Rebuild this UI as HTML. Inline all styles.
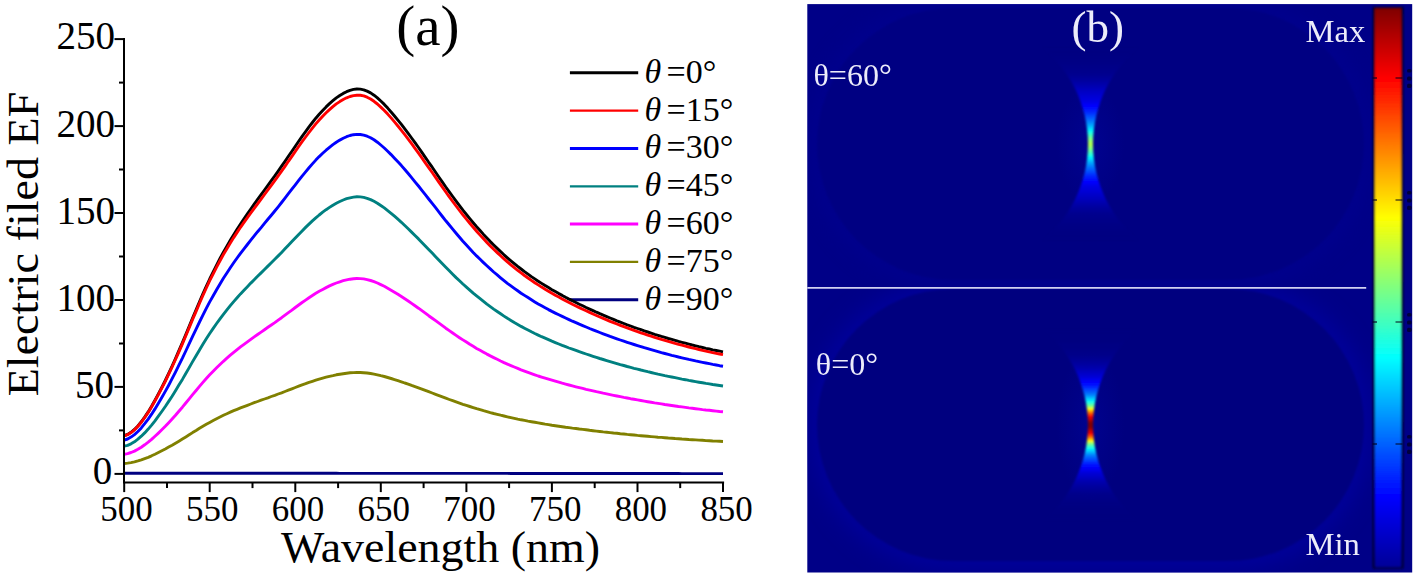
<!DOCTYPE html>
<html><head><meta charset="utf-8"><title>Figure</title>
<style>
html,body{margin:0;padding:0;background:#fff;}
body{width:1416px;height:578px;overflow:hidden;font-family:"Liberation Serif",serif;}
svg{display:block;}
</style></head>
<body>
<svg width="1416" height="578" viewBox="0 0 1416 578">
<rect width="1416" height="578" fill="#ffffff"/>
<path d="M569.9,299.7 H638.2" stroke="#000080" stroke-width="3.0"/>
<path d="M569.9,261.9 H638.2" stroke="#808000" stroke-width="2.2"/>
<path d="M569.9,224.1 H638.2" stroke="#ff00ff" stroke-width="3.0"/>
<path d="M569.9,186.3 H638.2" stroke="#008080" stroke-width="2.2"/>
<path d="M569.9,148.4 H638.2" stroke="#0000ff" stroke-width="3.0"/>
<path d="M569.9,110.6 H638.2" stroke="#ff0000" stroke-width="2.4"/>
<path d="M569.9,72.8 H638.2" stroke="#000000" stroke-width="3.0"/>
<path d="M124.2,473.2 L127.6,473.2 L131.0,473.2 L134.5,473.2 L137.9,473.2 L141.3,473.2 L144.7,473.2 L148.2,473.2 L151.6,473.2 L155.0,473.2 L158.4,473.2 L161.8,473.2 L165.3,473.2 L168.7,473.3 L172.1,473.3 L175.5,473.3 L178.9,473.3 L182.4,473.3 L185.8,473.3 L189.2,473.3 L192.6,473.3 L196.1,473.3 L199.5,473.3 L202.9,473.3 L206.3,473.3 L209.7,473.3 L213.2,473.3 L216.6,473.3 L220.0,473.3 L223.4,473.3 L226.9,473.3 L230.3,473.3 L233.7,473.3 L237.1,473.3 L240.5,473.3 L244.0,473.3 L247.4,473.3 L250.8,473.3 L254.2,473.3 L257.6,473.3 L261.1,473.3 L264.5,473.3 L267.9,473.3 L271.3,473.3 L274.8,473.3 L278.2,473.3 L281.6,473.3 L285.0,473.3 L288.4,473.3 L291.9,473.3 L295.3,473.3 L298.7,473.3 L302.1,473.3 L305.6,473.3 L309.0,473.3 L312.4,473.3 L315.8,473.3 L319.2,473.3 L322.7,473.3 L326.1,473.3 L329.5,473.3 L332.9,473.3 L336.3,473.3 L339.8,473.4 L343.2,473.4 L346.6,473.4 L350.0,473.4 L353.5,473.4 L356.9,473.4 L360.3,473.4 L363.7,473.4 L367.1,473.4 L370.6,473.4 L374.0,473.4 L377.4,473.4 L380.8,473.4 L384.3,473.4 L387.7,473.4 L391.1,473.4 L394.5,473.4 L397.9,473.4 L401.4,473.4 L404.8,473.4 L408.2,473.4 L411.6,473.4 L415.0,473.4 L418.5,473.4 L421.9,473.4 L425.3,473.4 L428.7,473.4 L432.2,473.4 L435.6,473.4 L439.0,473.4 L442.4,473.4 L445.8,473.4 L449.3,473.4 L452.7,473.4 L456.1,473.4 L459.5,473.4 L462.9,473.4 L466.4,473.4 L469.8,473.4 L473.2,473.4 L476.6,473.4 L480.1,473.4 L483.5,473.4 L486.9,473.4 L490.3,473.4 L493.7,473.4 L497.2,473.4 L500.6,473.4 L504.0,473.4 L507.4,473.4 L510.9,473.5 L514.3,473.5 L517.7,473.5 L521.1,473.5 L524.5,473.5 L528.0,473.5 L531.4,473.5 L534.8,473.5 L538.2,473.5 L541.6,473.5 L545.1,473.5 L548.5,473.5 L551.9,473.5 L555.3,473.5 L558.8,473.5 L562.2,473.5 L565.6,473.5 L569.0,473.5 L572.4,473.5 L575.9,473.5 L579.3,473.5 L582.7,473.5 L586.1,473.5 L589.6,473.5 L593.0,473.5 L596.4,473.5 L599.8,473.5 L603.2,473.5 L606.7,473.5 L610.1,473.5 L613.5,473.5 L616.9,473.5 L620.3,473.5 L623.8,473.5 L627.2,473.5 L630.6,473.5 L634.0,473.5 L637.5,473.5 L640.9,473.5 L644.3,473.5 L647.7,473.5 L651.1,473.5 L654.6,473.5 L658.0,473.5 L661.4,473.5 L664.8,473.5 L668.3,473.5 L671.7,473.5 L675.1,473.5 L678.5,473.5 L681.9,473.6 L685.4,473.6 L688.8,473.6 L692.2,473.6 L695.6,473.6 L699.0,473.6 L702.5,473.6 L705.9,473.6 L709.3,473.6 L712.7,473.6 L716.2,473.6 L719.6,473.6 L723.0,473.6" fill="none" stroke="#000080" stroke-width="2.9" stroke-linejoin="round"/>
<path d="M124.2,463.5 L127.6,463.1 L131.0,462.6 L134.5,461.9 L137.9,460.9 L141.3,459.8 L144.7,458.6 L148.2,457.3 L151.6,455.8 L155.0,454.2 L158.4,452.5 L161.8,450.8 L165.3,449.0 L168.7,447.1 L172.1,445.2 L175.5,443.2 L178.9,441.2 L182.4,439.1 L185.8,437.0 L189.2,434.8 L192.6,432.6 L196.1,430.5 L199.5,428.3 L202.9,426.3 L206.3,424.3 L209.7,422.4 L213.2,420.5 L216.6,418.7 L220.0,417.0 L223.4,415.3 L226.9,413.7 L230.3,412.2 L233.7,410.7 L237.1,409.3 L240.5,407.9 L244.0,406.6 L247.4,405.3 L250.8,404.0 L254.2,402.7 L257.6,401.5 L261.1,400.2 L264.5,399.0 L267.9,397.8 L271.3,396.5 L274.8,395.3 L278.2,394.0 L281.6,392.8 L285.0,391.5 L288.4,390.2 L291.9,388.8 L295.3,387.5 L298.7,386.2 L302.1,384.9 L305.6,383.7 L309.0,382.4 L312.4,381.3 L315.8,380.2 L319.2,379.1 L322.7,378.1 L326.1,377.2 L329.5,376.3 L332.9,375.6 L336.3,374.8 L339.8,374.2 L343.2,373.7 L346.6,373.2 L350.0,372.8 L353.5,372.6 L356.9,372.5 L360.3,372.5 L363.7,372.7 L367.1,373.0 L370.6,373.5 L374.0,374.1 L377.4,374.8 L380.8,375.7 L384.3,376.5 L387.7,377.5 L391.1,378.5 L394.5,379.6 L397.9,380.7 L401.4,381.8 L404.8,383.0 L408.2,384.1 L411.6,385.4 L415.0,386.6 L418.5,387.9 L421.9,389.1 L425.3,390.4 L428.7,391.7 L432.2,393.0 L435.6,394.3 L439.0,395.6 L442.4,396.9 L445.8,398.2 L449.3,399.5 L452.7,400.7 L456.1,401.9 L459.5,403.1 L462.9,404.3 L466.4,405.4 L469.8,406.5 L473.2,407.6 L476.6,408.7 L480.1,409.7 L483.5,410.7 L486.9,411.6 L490.3,412.6 L493.7,413.5 L497.2,414.3 L500.6,415.2 L504.0,416.0 L507.4,416.8 L510.9,417.6 L514.3,418.3 L517.7,419.1 L521.1,419.8 L524.5,420.4 L528.0,421.1 L531.4,421.7 L534.8,422.3 L538.2,422.9 L541.6,423.5 L545.1,424.1 L548.5,424.6 L551.9,425.2 L555.3,425.7 L558.8,426.2 L562.2,426.7 L565.6,427.2 L569.0,427.6 L572.4,428.1 L575.9,428.5 L579.3,429.0 L582.7,429.4 L586.1,429.8 L589.6,430.3 L593.0,430.7 L596.4,431.1 L599.8,431.5 L603.2,431.9 L606.7,432.2 L610.1,432.6 L613.5,433.0 L616.9,433.3 L620.3,433.7 L623.8,434.0 L627.2,434.4 L630.6,434.7 L634.0,435.0 L637.5,435.4 L640.9,435.7 L644.3,436.0 L647.7,436.3 L651.1,436.6 L654.6,436.9 L658.0,437.2 L661.4,437.4 L664.8,437.7 L668.3,438.0 L671.7,438.2 L675.1,438.5 L678.5,438.7 L681.9,439.0 L685.4,439.2 L688.8,439.5 L692.2,439.7 L695.6,439.9 L699.0,440.1 L702.5,440.3 L705.9,440.6 L709.3,440.8 L712.7,441.0 L716.2,441.1 L719.6,441.3 L723.0,441.5" fill="none" stroke="#808000" stroke-width="2.9" stroke-linejoin="round"/>
<path d="M124.2,454.3 L127.6,453.6 L131.0,452.5 L134.5,451.1 L137.9,449.3 L141.3,447.2 L144.7,444.8 L148.2,442.2 L151.6,439.4 L155.0,436.3 L158.4,433.1 L161.8,429.8 L165.3,426.3 L168.7,422.7 L172.1,419.0 L175.5,415.2 L178.9,411.2 L182.4,407.2 L185.8,403.0 L189.2,398.8 L192.6,394.6 L196.1,390.5 L199.5,386.4 L202.9,382.4 L206.3,378.5 L209.7,374.8 L213.2,371.2 L216.6,367.8 L220.0,364.5 L223.4,361.3 L226.9,358.2 L230.3,355.2 L233.7,352.4 L237.1,349.6 L240.5,346.9 L244.0,344.3 L247.4,341.8 L250.8,339.3 L254.2,336.9 L257.6,334.5 L261.1,332.1 L264.5,329.7 L267.9,327.3 L271.3,325.0 L274.8,322.6 L278.2,320.1 L281.6,317.7 L285.0,315.1 L288.4,312.6 L291.9,310.1 L295.3,307.5 L298.7,305.0 L302.1,302.5 L305.6,300.1 L309.0,297.7 L312.4,295.5 L315.8,293.3 L319.2,291.3 L322.7,289.4 L326.1,287.6 L329.5,285.9 L332.9,284.4 L336.3,283.0 L339.8,281.8 L343.2,280.7 L346.6,279.9 L350.0,279.2 L353.5,278.7 L356.9,278.5 L360.3,278.6 L363.7,278.9 L367.1,279.6 L370.6,280.5 L374.0,281.6 L377.4,283.0 L380.8,284.6 L384.3,286.3 L387.7,288.2 L391.1,290.2 L394.5,292.2 L397.9,294.3 L401.4,296.5 L404.8,298.7 L408.2,301.0 L411.6,303.4 L415.0,305.8 L418.5,308.2 L421.9,310.7 L425.3,313.1 L428.7,315.7 L432.2,318.2 L435.6,320.7 L439.0,323.2 L442.4,325.7 L445.8,328.2 L449.3,330.6 L452.7,333.0 L456.1,335.4 L459.5,337.7 L462.9,339.9 L466.4,342.1 L469.8,344.3 L473.2,346.3 L476.6,348.4 L480.1,350.3 L483.5,352.2 L486.9,354.1 L490.3,355.9 L493.7,357.6 L497.2,359.3 L500.6,361.0 L504.0,362.6 L507.4,364.1 L510.9,365.6 L514.3,367.0 L517.7,368.4 L521.1,369.8 L524.5,371.1 L528.0,372.4 L531.4,373.6 L534.8,374.8 L538.2,376.0 L541.6,377.1 L545.1,378.2 L548.5,379.2 L551.9,380.2 L555.3,381.2 L558.8,382.2 L562.2,383.2 L565.6,384.1 L569.0,385.0 L572.4,385.9 L575.9,386.8 L579.3,387.6 L582.7,388.4 L586.1,389.3 L589.6,390.1 L593.0,390.9 L596.4,391.7 L599.8,392.4 L603.2,393.2 L606.7,393.9 L610.1,394.6 L613.5,395.3 L616.9,396.0 L620.3,396.7 L623.8,397.4 L627.2,398.0 L630.6,398.7 L634.0,399.3 L637.5,399.9 L640.9,400.5 L644.3,401.1 L647.7,401.7 L651.1,402.3 L654.6,402.9 L658.0,403.4 L661.4,403.9 L664.8,404.5 L668.3,405.0 L671.7,405.5 L675.1,406.0 L678.5,406.5 L681.9,406.9 L685.4,407.4 L688.8,407.9 L692.2,408.3 L695.6,408.7 L699.0,409.1 L702.5,409.6 L705.9,410.0 L709.3,410.3 L712.7,410.7 L716.2,411.1 L719.6,411.5 L723.0,411.8" fill="none" stroke="#ff00ff" stroke-width="2.9" stroke-linejoin="round"/>
<path d="M124.2,446.2 L127.6,445.3 L131.0,443.8 L134.5,441.8 L137.9,439.2 L141.3,436.2 L144.7,432.9 L148.2,429.1 L151.6,425.1 L155.0,420.8 L158.4,416.2 L161.8,411.5 L165.3,406.5 L168.7,401.4 L172.1,396.2 L175.5,390.7 L178.9,385.1 L182.4,379.4 L185.8,373.5 L189.2,367.6 L192.6,361.6 L196.1,355.7 L199.5,349.9 L202.9,344.2 L206.3,338.8 L209.7,333.5 L213.2,328.4 L216.6,323.5 L220.0,318.8 L223.4,314.3 L226.9,309.9 L230.3,305.7 L233.7,301.6 L237.1,297.7 L240.5,293.9 L244.0,290.2 L247.4,286.7 L250.8,283.1 L254.2,279.7 L257.6,276.3 L261.1,272.9 L264.5,269.5 L267.9,266.1 L271.3,262.7 L274.8,259.3 L278.2,255.9 L281.6,252.4 L285.0,248.8 L288.4,245.2 L291.9,241.6 L295.3,238.0 L298.7,234.4 L302.1,230.9 L305.6,227.4 L309.0,224.1 L312.4,220.9 L315.8,217.9 L319.2,215.0 L322.7,212.2 L326.1,209.7 L329.5,207.4 L332.9,205.2 L336.3,203.3 L339.8,201.5 L343.2,200.0 L346.6,198.7 L350.0,197.8 L353.5,197.1 L356.9,196.8 L360.3,196.9 L363.7,197.4 L367.1,198.3 L370.6,199.6 L374.0,201.3 L377.4,203.2 L380.8,205.5 L384.3,207.9 L387.7,210.6 L391.1,213.3 L394.5,216.2 L397.9,219.2 L401.4,222.3 L404.8,225.5 L408.2,228.8 L411.6,232.1 L415.0,235.5 L418.5,238.9 L421.9,242.4 L425.3,246.0 L428.7,249.5 L432.2,253.1 L435.6,256.7 L439.0,260.3 L442.4,263.8 L445.8,267.3 L449.3,270.8 L452.7,274.2 L456.1,277.6 L459.5,280.8 L462.9,284.0 L466.4,287.1 L469.8,290.1 L473.2,293.1 L476.6,295.9 L480.1,298.7 L483.5,301.4 L486.9,304.1 L490.3,306.6 L493.7,309.1 L497.2,311.5 L500.6,313.8 L504.0,316.1 L507.4,318.3 L510.9,320.4 L514.3,322.5 L517.7,324.4 L521.1,326.4 L524.5,328.2 L528.0,330.0 L531.4,331.8 L534.8,333.5 L538.2,335.1 L541.6,336.7 L545.1,338.2 L548.5,339.7 L551.9,341.2 L555.3,342.6 L558.8,344.0 L562.2,345.4 L565.6,346.7 L569.0,348.0 L572.4,349.2 L575.9,350.4 L579.3,351.7 L582.7,352.8 L586.1,354.0 L589.6,355.2 L593.0,356.3 L596.4,357.4 L599.8,358.5 L603.2,359.5 L606.7,360.6 L610.1,361.6 L613.5,362.6 L616.9,363.6 L620.3,364.6 L623.8,365.5 L627.2,366.5 L630.6,367.4 L634.0,368.3 L637.5,369.1 L640.9,370.0 L644.3,370.8 L647.7,371.7 L651.1,372.5 L654.6,373.3 L658.0,374.1 L661.4,374.8 L664.8,375.6 L668.3,376.3 L671.7,377.0 L675.1,377.7 L678.5,378.4 L681.9,379.1 L685.4,379.7 L688.8,380.4 L692.2,381.0 L695.6,381.6 L699.0,382.2 L702.5,382.8 L705.9,383.4 L709.3,383.9 L712.7,384.5 L716.2,385.0 L719.6,385.5 L723.0,386.0" fill="none" stroke="#008080" stroke-width="2.9" stroke-linejoin="round"/>
<path d="M124.2,440.1 L127.6,439.0 L131.0,437.1 L134.5,434.6 L137.9,431.5 L141.3,427.9 L144.7,423.7 L148.2,419.1 L151.6,414.2 L155.0,408.9 L158.4,403.3 L161.8,397.5 L165.3,391.4 L168.7,385.2 L172.1,378.7 L175.5,372.1 L178.9,365.2 L182.4,358.2 L185.8,351.0 L189.2,343.7 L192.6,336.4 L196.1,329.1 L199.5,322.0 L202.9,315.1 L206.3,308.4 L209.7,301.9 L213.2,295.7 L216.6,289.7 L220.0,283.9 L223.4,278.3 L226.9,273.0 L230.3,267.8 L233.7,262.8 L237.1,258.0 L240.5,253.4 L244.0,248.9 L247.4,244.5 L250.8,240.2 L254.2,235.9 L257.6,231.7 L261.1,227.6 L264.5,223.4 L267.9,219.3 L271.3,215.2 L274.8,211.0 L278.2,206.8 L281.6,202.5 L285.0,198.1 L288.4,193.7 L291.9,189.2 L295.3,184.8 L298.7,180.4 L302.1,176.1 L305.6,171.9 L309.0,167.8 L312.4,163.9 L315.8,160.1 L319.2,156.6 L322.7,153.3 L326.1,150.2 L329.5,147.3 L332.9,144.6 L336.3,142.2 L339.8,140.1 L343.2,138.3 L346.6,136.7 L350.0,135.5 L353.5,134.7 L356.9,134.4 L360.3,134.5 L363.7,135.1 L367.1,136.2 L370.6,137.8 L374.0,139.8 L377.4,142.2 L380.8,145.0 L384.3,148.0 L387.7,151.2 L391.1,154.6 L394.5,158.2 L397.9,161.8 L401.4,165.6 L404.8,169.5 L408.2,173.5 L411.6,177.6 L415.0,181.8 L418.5,186.0 L421.9,190.3 L425.3,194.6 L428.7,199.0 L432.2,203.4 L435.6,207.7 L439.0,212.1 L442.4,216.5 L445.8,220.8 L449.3,225.0 L452.7,229.2 L456.1,233.3 L459.5,237.3 L462.9,241.2 L466.4,245.0 L469.8,248.7 L473.2,252.4 L476.6,255.9 L480.1,259.3 L483.5,262.6 L486.9,265.8 L490.3,268.9 L493.7,272.0 L497.2,274.9 L500.6,277.8 L504.0,280.6 L507.4,283.3 L510.9,285.9 L514.3,288.4 L517.7,290.8 L521.1,293.2 L524.5,295.4 L528.0,297.6 L531.4,299.8 L534.8,301.9 L538.2,303.9 L541.6,305.8 L545.1,307.7 L548.5,309.6 L551.9,311.4 L555.3,313.1 L558.8,314.8 L562.2,316.4 L565.6,318.0 L569.0,319.6 L572.4,321.2 L575.9,322.7 L579.3,324.2 L582.7,325.6 L586.1,327.0 L589.6,328.5 L593.0,329.8 L596.4,331.2 L599.8,332.5 L603.2,333.8 L606.7,335.1 L610.1,336.4 L613.5,337.6 L616.9,338.8 L620.3,340.0 L623.8,341.2 L627.2,342.3 L630.6,343.4 L634.0,344.5 L637.5,345.6 L640.9,346.6 L644.3,347.7 L647.7,348.7 L651.1,349.7 L654.6,350.7 L658.0,351.6 L661.4,352.6 L664.8,353.5 L668.3,354.4 L671.7,355.3 L675.1,356.1 L678.5,357.0 L681.9,357.8 L685.4,358.6 L688.8,359.4 L692.2,360.1 L695.6,360.9 L699.0,361.6 L702.5,362.3 L705.9,363.0 L709.3,363.7 L712.7,364.4 L716.2,365.0 L719.6,365.7 L723.0,366.3" fill="none" stroke="#0000ff" stroke-width="2.9" stroke-linejoin="round"/>
<path d="M124.2,435.6 L127.6,434.4 L131.0,432.3 L134.5,429.4 L137.9,425.9 L141.3,421.8 L144.7,417.1 L148.2,411.9 L151.6,406.2 L155.0,400.2 L158.4,393.9 L161.8,387.3 L165.3,380.5 L168.7,373.4 L172.1,366.1 L175.5,358.5 L178.9,350.7 L182.4,342.7 L185.8,334.6 L189.2,326.3 L192.6,318.0 L196.1,309.8 L199.5,301.7 L202.9,293.9 L206.3,286.3 L209.7,279.0 L213.2,271.9 L216.6,265.1 L220.0,258.5 L223.4,252.2 L226.9,246.1 L230.3,240.3 L233.7,234.7 L237.1,229.2 L240.5,224.0 L244.0,218.8 L247.4,213.9 L250.8,209.0 L254.2,204.2 L257.6,199.4 L261.1,194.7 L264.5,190.0 L267.9,185.3 L271.3,180.6 L274.8,175.9 L278.2,171.1 L281.6,166.2 L285.0,161.3 L288.4,156.3 L291.9,151.2 L295.3,146.2 L298.7,141.2 L302.1,136.3 L305.6,131.6 L309.0,126.9 L312.4,122.5 L315.8,118.2 L319.2,114.2 L322.7,110.4 L326.1,106.9 L329.5,103.6 L332.9,100.7 L336.3,97.9 L339.8,95.5 L343.2,93.4 L346.6,91.7 L350.0,90.3 L353.5,89.4 L356.9,89.0 L360.3,89.1 L363.7,89.8 L367.1,91.1 L370.6,92.9 L374.0,95.2 L377.4,97.9 L380.8,101.0 L384.3,104.4 L387.7,108.1 L391.1,112.0 L394.5,116.0 L397.9,120.1 L401.4,124.4 L404.8,128.9 L408.2,133.4 L411.6,138.0 L415.0,142.7 L418.5,147.5 L421.9,152.4 L425.3,157.3 L428.7,162.3 L432.2,167.2 L435.6,172.2 L439.0,177.2 L442.4,182.1 L445.8,187.0 L449.3,191.8 L452.7,196.5 L456.1,201.2 L459.5,205.7 L462.9,210.2 L466.4,214.5 L469.8,218.7 L473.2,222.8 L476.6,226.8 L480.1,230.6 L483.5,234.4 L486.9,238.0 L490.3,241.6 L493.7,245.0 L497.2,248.4 L500.6,251.6 L504.0,254.8 L507.4,257.8 L510.9,260.8 L514.3,263.6 L517.7,266.4 L521.1,269.0 L524.5,271.6 L528.0,274.1 L531.4,276.6 L534.8,278.9 L538.2,281.2 L541.6,283.4 L545.1,285.6 L548.5,287.6 L551.9,289.7 L555.3,291.6 L558.8,293.6 L562.2,295.4 L565.6,297.3 L569.0,299.1 L572.4,300.8 L575.9,302.5 L579.3,304.2 L582.7,305.8 L586.1,307.5 L589.6,309.1 L593.0,310.6 L596.4,312.2 L599.8,313.7 L603.2,315.1 L606.7,316.6 L610.1,318.0 L613.5,319.4 L616.9,320.8 L620.3,322.1 L623.8,323.5 L627.2,324.8 L630.6,326.0 L634.0,327.3 L637.5,328.5 L640.9,329.7 L644.3,330.9 L647.7,332.0 L651.1,333.1 L654.6,334.3 L658.0,335.3 L661.4,336.4 L664.8,337.4 L668.3,338.5 L671.7,339.4 L675.1,340.4 L678.5,341.4 L681.9,342.3 L685.4,343.2 L688.8,344.1 L692.2,345.0 L695.6,345.8 L699.0,346.7 L702.5,347.5 L705.9,348.3 L709.3,349.0 L712.7,349.8 L716.2,350.5 L719.6,351.2 L723.0,351.9" fill="none" stroke="#000000" stroke-width="2.9" stroke-linejoin="round"/>
<path d="M124.2,435.9 L127.6,434.7 L131.0,432.6 L134.5,429.8 L137.9,426.3 L141.3,422.2 L144.7,417.5 L148.2,412.4 L151.6,406.8 L155.0,400.8 L158.4,394.6 L161.8,388.0 L165.3,381.3 L168.7,374.2 L172.1,367.0 L175.5,359.5 L178.9,351.8 L182.4,343.9 L185.8,335.8 L189.2,327.6 L192.6,319.4 L196.1,311.3 L199.5,303.3 L202.9,295.5 L206.3,288.0 L209.7,280.7 L213.2,273.8 L216.6,267.2 L220.0,260.8 L223.4,254.6 L226.9,248.8 L230.3,243.1 L233.7,237.6 L237.1,232.4 L240.5,227.3 L244.0,222.4 L247.4,217.6 L250.8,212.9 L254.2,208.3 L257.6,203.8 L261.1,199.2 L264.5,194.5 L267.9,189.9 L271.3,185.3 L274.8,180.6 L278.2,175.9 L281.6,171.1 L285.0,166.3 L288.4,161.3 L291.9,156.4 L295.3,151.4 L298.7,146.5 L302.1,141.7 L305.6,137.0 L309.0,132.5 L312.4,128.1 L315.8,123.9 L319.2,120.0 L322.7,116.2 L326.1,112.8 L329.5,109.6 L332.9,106.6 L336.3,103.9 L339.8,101.6 L343.2,99.5 L346.6,97.8 L350.0,96.5 L353.5,95.6 L356.9,95.2 L360.3,95.3 L363.7,95.9 L367.1,97.2 L370.6,99.0 L374.0,101.3 L377.4,104.0 L380.8,107.1 L384.3,110.5 L387.7,114.1 L391.1,117.9 L394.5,121.9 L397.9,126.0 L401.4,130.3 L404.8,134.6 L408.2,139.1 L411.6,143.7 L415.0,148.4 L418.5,153.1 L421.9,157.9 L425.3,162.8 L428.7,167.6 L432.2,172.5 L435.6,177.4 L439.0,182.3 L442.4,187.2 L445.8,192.0 L449.3,196.8 L452.7,201.5 L456.1,206.0 L459.5,210.5 L462.9,214.9 L466.4,219.2 L469.8,223.3 L473.2,227.3 L476.6,231.2 L480.1,235.1 L483.5,238.8 L486.9,242.4 L490.3,245.9 L493.7,249.3 L497.2,252.6 L500.6,255.8 L504.0,258.9 L507.4,261.9 L510.9,264.8 L514.3,267.6 L517.7,270.3 L521.1,272.9 L524.5,275.5 L528.0,278.0 L531.4,280.4 L534.8,282.7 L538.2,284.9 L541.6,287.1 L545.1,289.2 L548.5,291.3 L551.9,293.3 L555.3,295.2 L558.8,297.1 L562.2,299.0 L565.6,300.8 L569.0,302.5 L572.4,304.3 L575.9,306.0 L579.3,307.6 L582.7,309.2 L586.1,310.8 L589.6,312.4 L593.0,314.0 L596.4,315.5 L599.8,317.0 L603.2,318.4 L606.7,319.8 L610.1,321.3 L613.5,322.6 L616.9,324.0 L620.3,325.3 L623.8,326.6 L627.2,327.9 L630.6,329.2 L634.0,330.4 L637.5,331.6 L640.9,332.8 L644.3,333.9 L647.7,335.1 L651.1,336.2 L654.6,337.3 L658.0,338.3 L661.4,339.4 L664.8,340.4 L668.3,341.4 L671.7,342.4 L675.1,343.4 L678.5,344.3 L681.9,345.2 L685.4,346.1 L688.8,347.0 L692.2,347.9 L695.6,348.7 L699.0,349.5 L702.5,350.3 L705.9,351.1 L709.3,351.9 L712.7,352.6 L716.2,353.3 L719.6,354.0 L723.0,354.7" fill="none" stroke="#ff0000" stroke-width="2.9" stroke-linejoin="round"/>
<g stroke="#000" stroke-width="2" fill="none">
<path d="M124.0,38.1 V482.6 H724.1"/>
<path d="M124.0,473.9 h-9.5"/>
<path d="M124.0,430.4 h-5.0"/>
<path d="M124.0,386.9 h-9.5"/>
<path d="M124.0,343.5 h-5.0"/>
<path d="M124.0,300.0 h-9.5"/>
<path d="M124.0,256.5 h-5.0"/>
<path d="M124.0,213.0 h-9.5"/>
<path d="M124.0,169.5 h-5.0"/>
<path d="M124.0,126.1 h-9.5"/>
<path d="M124.0,82.6 h-5.0"/>
<path d="M124.0,39.1 h-9.5"/>
<path d="M124.2,482.6 v9.5"/>
<path d="M167.0,482.6 v5.5"/>
<path d="M209.7,482.6 v9.5"/>
<path d="M252.5,482.6 v5.5"/>
<path d="M295.3,482.6 v9.5"/>
<path d="M338.1,482.6 v5.5"/>
<path d="M380.8,482.6 v9.5"/>
<path d="M423.6,482.6 v5.5"/>
<path d="M466.4,482.6 v9.5"/>
<path d="M509.1,482.6 v5.5"/>
<path d="M551.9,482.6 v9.5"/>
<path d="M594.7,482.6 v5.5"/>
<path d="M637.5,482.6 v9.5"/>
<path d="M680.2,482.6 v5.5"/>
<path d="M723.0,482.6 v9.5"/>
</g>
<g font-family="Liberation Serif, serif" fill="#000">
<text transform="translate(112.40,483.50) scale(0.9650,1)" font-size="40.5" text-anchor="end">0</text>
<text transform="translate(114.00,397.54) scale(0.9650,1)" font-size="40.5" text-anchor="end">50</text>
<text transform="translate(115.00,310.58) scale(0.9650,1)" font-size="40.5" text-anchor="end">100</text>
<text transform="translate(115.00,223.62) scale(0.9650,1)" font-size="40.5" text-anchor="end">150</text>
<text transform="translate(115.00,136.66) scale(0.9650,1)" font-size="40.5" text-anchor="end">200</text>
<text transform="translate(115.00,48.90) scale(0.9650,1)" font-size="40.5" text-anchor="end">250</text>
<text transform="translate(126.50,521.20) scale(0.9850,1)" font-size="35.5" text-anchor="middle">500</text>
<text transform="translate(212.23,521.20) scale(0.9850,1)" font-size="35.5" text-anchor="middle">550</text>
<text transform="translate(297.96,521.20) scale(0.9850,1)" font-size="35.5" text-anchor="middle">600</text>
<text transform="translate(383.69,521.20) scale(0.9850,1)" font-size="35.5" text-anchor="middle">650</text>
<text transform="translate(469.41,521.20) scale(0.9850,1)" font-size="35.5" text-anchor="middle">700</text>
<text transform="translate(555.14,521.20) scale(0.9850,1)" font-size="35.5" text-anchor="middle">750</text>
<text transform="translate(640.87,521.20) scale(0.9850,1)" font-size="35.5" text-anchor="middle">800</text>
<text transform="translate(726.60,521.20) scale(0.9850,1)" font-size="35.5" text-anchor="middle">850</text>
<text transform="translate(440.50,562.00) scale(1.0250,1)" font-size="44.8" text-anchor="middle">Wavelength (nm)</text>
<text transform="translate(37.60,244.00) rotate(-90) scale(1.0600,1)" font-size="43.5" text-anchor="middle">Electric filed EF</text>
<text transform="translate(427.80,44.60)" font-size="57" text-anchor="middle">(a)</text>
</g>
<g font-family="Liberation Serif, serif" font-size="34" fill="#000">
<text x="644.5" y="82.7" font-style="italic">&#952;</text>
<text x="666.5" y="82.7">=0&#176;</text>
<text x="644.5" y="120.5" font-style="italic">&#952;</text>
<text x="666.5" y="120.5">=15&#176;</text>
<text x="644.5" y="158.3" font-style="italic">&#952;</text>
<text x="666.5" y="158.3">=30&#176;</text>
<text x="644.5" y="196.2" font-style="italic">&#952;</text>
<text x="666.5" y="196.2">=45&#176;</text>
<text x="644.5" y="234.0" font-style="italic">&#952;</text>
<text x="666.5" y="234.0">=60&#176;</text>
<text x="644.5" y="271.8" font-style="italic">&#952;</text>
<text x="666.5" y="271.8">=75&#176;</text>
<text x="644.5" y="309.6" font-style="italic">&#952;</text>
<text x="666.5" y="309.6">=90&#176;</text>
</g>
<defs>
<linearGradient id="cb" x1="0" y1="0" x2="0" y2="1">
<stop offset="0.0000" stop-color="#800000"/>
<stop offset="0.1250" stop-color="#ff0000"/>
<stop offset="0.3750" stop-color="#ffff00"/>
<stop offset="0.6250" stop-color="#00ffff"/>
<stop offset="0.8750" stop-color="#0000ff"/>
<stop offset="1.0000" stop-color="#000098"/>
</linearGradient>
<linearGradient id="fu" gradientUnits="userSpaceOnUse" x1="0" y1="44.0" x2="0" y2="244.0">
<stop offset="0.000" stop-color="#000080" stop-opacity="0.00"/>
<stop offset="0.010" stop-color="#000080" stop-opacity="0.00"/>
<stop offset="0.020" stop-color="#000081" stop-opacity="0.01"/>
<stop offset="0.030" stop-color="#000083" stop-opacity="0.04"/>
<stop offset="0.040" stop-color="#000084" stop-opacity="0.07"/>
<stop offset="0.050" stop-color="#000086" stop-opacity="0.10"/>
<stop offset="0.060" stop-color="#000088" stop-opacity="0.12"/>
<stop offset="0.070" stop-color="#000089" stop-opacity="0.15"/>
<stop offset="0.080" stop-color="#00008b" stop-opacity="0.19"/>
<stop offset="0.090" stop-color="#00008e" stop-opacity="0.23"/>
<stop offset="0.100" stop-color="#000090" stop-opacity="0.27"/>
<stop offset="0.110" stop-color="#000093" stop-opacity="0.31"/>
<stop offset="0.120" stop-color="#000095" stop-opacity="0.35"/>
<stop offset="0.130" stop-color="#000098" stop-opacity="0.39"/>
<stop offset="0.140" stop-color="#00009a" stop-opacity="0.43"/>
<stop offset="0.150" stop-color="#00009c" stop-opacity="0.47"/>
<stop offset="0.160" stop-color="#0000a1" stop-opacity="0.54"/>
<stop offset="0.170" stop-color="#0000a5" stop-opacity="0.61"/>
<stop offset="0.180" stop-color="#0000a9" stop-opacity="0.68"/>
<stop offset="0.190" stop-color="#0000ae" stop-opacity="0.75"/>
<stop offset="0.200" stop-color="#0000b2" stop-opacity="0.82"/>
<stop offset="0.210" stop-color="#0000b6" stop-opacity="0.89"/>
<stop offset="0.220" stop-color="#0000bb" stop-opacity="0.96"/>
<stop offset="0.230" stop-color="#0000bf" stop-opacity="1.00"/>
<stop offset="0.240" stop-color="#0000c5" stop-opacity="1.00"/>
<stop offset="0.250" stop-color="#0000cc" stop-opacity="1.00"/>
<stop offset="0.260" stop-color="#0000d2" stop-opacity="1.00"/>
<stop offset="0.270" stop-color="#0000d9" stop-opacity="1.00"/>
<stop offset="0.280" stop-color="#0000df" stop-opacity="1.00"/>
<stop offset="0.290" stop-color="#0000e6" stop-opacity="1.00"/>
<stop offset="0.300" stop-color="#0000f3" stop-opacity="1.00"/>
<stop offset="0.310" stop-color="#0000ff" stop-opacity="1.00"/>
<stop offset="0.320" stop-color="#000dff" stop-opacity="1.00"/>
<stop offset="0.330" stop-color="#001aff" stop-opacity="1.00"/>
<stop offset="0.340" stop-color="#0027ff" stop-opacity="1.00"/>
<stop offset="0.350" stop-color="#0037ff" stop-opacity="1.00"/>
<stop offset="0.360" stop-color="#0049ff" stop-opacity="1.00"/>
<stop offset="0.370" stop-color="#005bff" stop-opacity="1.00"/>
<stop offset="0.380" stop-color="#006dff" stop-opacity="1.00"/>
<stop offset="0.390" stop-color="#0080ff" stop-opacity="1.00"/>
<stop offset="0.400" stop-color="#0098ff" stop-opacity="1.00"/>
<stop offset="0.410" stop-color="#00b0ff" stop-opacity="1.00"/>
<stop offset="0.420" stop-color="#00cdff" stop-opacity="1.00"/>
<stop offset="0.430" stop-color="#00eeff" stop-opacity="1.00"/>
<stop offset="0.440" stop-color="#0ffff0" stop-opacity="1.00"/>
<stop offset="0.450" stop-color="#2effd1" stop-opacity="1.00"/>
<stop offset="0.460" stop-color="#4dffb2" stop-opacity="1.00"/>
<stop offset="0.470" stop-color="#6eff91" stop-opacity="1.00"/>
<stop offset="0.480" stop-color="#8aff75" stop-opacity="1.00"/>
<stop offset="0.490" stop-color="#9eff61" stop-opacity="1.00"/>
<stop offset="0.500" stop-color="#b3ff4c" stop-opacity="1.00"/>
<stop offset="0.510" stop-color="#9eff61" stop-opacity="1.00"/>
<stop offset="0.520" stop-color="#8aff75" stop-opacity="1.00"/>
<stop offset="0.530" stop-color="#6eff91" stop-opacity="1.00"/>
<stop offset="0.540" stop-color="#4cffb3" stop-opacity="1.00"/>
<stop offset="0.550" stop-color="#2effd1" stop-opacity="1.00"/>
<stop offset="0.560" stop-color="#0ffff0" stop-opacity="1.00"/>
<stop offset="0.570" stop-color="#00eeff" stop-opacity="1.00"/>
<stop offset="0.580" stop-color="#00cdff" stop-opacity="1.00"/>
<stop offset="0.590" stop-color="#00b0ff" stop-opacity="1.00"/>
<stop offset="0.600" stop-color="#0098ff" stop-opacity="1.00"/>
<stop offset="0.610" stop-color="#0080ff" stop-opacity="1.00"/>
<stop offset="0.620" stop-color="#006dff" stop-opacity="1.00"/>
<stop offset="0.630" stop-color="#005bff" stop-opacity="1.00"/>
<stop offset="0.640" stop-color="#0049ff" stop-opacity="1.00"/>
<stop offset="0.650" stop-color="#0037ff" stop-opacity="1.00"/>
<stop offset="0.660" stop-color="#0027ff" stop-opacity="1.00"/>
<stop offset="0.670" stop-color="#001aff" stop-opacity="1.00"/>
<stop offset="0.680" stop-color="#000dff" stop-opacity="1.00"/>
<stop offset="0.690" stop-color="#0000ff" stop-opacity="1.00"/>
<stop offset="0.700" stop-color="#0000f3" stop-opacity="1.00"/>
<stop offset="0.710" stop-color="#0000e6" stop-opacity="1.00"/>
<stop offset="0.720" stop-color="#0000df" stop-opacity="1.00"/>
<stop offset="0.730" stop-color="#0000d9" stop-opacity="1.00"/>
<stop offset="0.740" stop-color="#0000d2" stop-opacity="1.00"/>
<stop offset="0.750" stop-color="#0000cc" stop-opacity="1.00"/>
<stop offset="0.760" stop-color="#0000c5" stop-opacity="1.00"/>
<stop offset="0.770" stop-color="#0000bf" stop-opacity="1.00"/>
<stop offset="0.780" stop-color="#0000bb" stop-opacity="0.96"/>
<stop offset="0.790" stop-color="#0000b6" stop-opacity="0.89"/>
<stop offset="0.800" stop-color="#0000b2" stop-opacity="0.82"/>
<stop offset="0.810" stop-color="#0000ae" stop-opacity="0.75"/>
<stop offset="0.820" stop-color="#0000a9" stop-opacity="0.68"/>
<stop offset="0.830" stop-color="#0000a5" stop-opacity="0.61"/>
<stop offset="0.840" stop-color="#0000a1" stop-opacity="0.54"/>
<stop offset="0.850" stop-color="#00009c" stop-opacity="0.47"/>
<stop offset="0.860" stop-color="#00009a" stop-opacity="0.43"/>
<stop offset="0.870" stop-color="#000098" stop-opacity="0.39"/>
<stop offset="0.880" stop-color="#000095" stop-opacity="0.35"/>
<stop offset="0.890" stop-color="#000093" stop-opacity="0.31"/>
<stop offset="0.900" stop-color="#000090" stop-opacity="0.27"/>
<stop offset="0.910" stop-color="#00008e" stop-opacity="0.23"/>
<stop offset="0.920" stop-color="#00008b" stop-opacity="0.19"/>
<stop offset="0.930" stop-color="#000089" stop-opacity="0.15"/>
<stop offset="0.940" stop-color="#000088" stop-opacity="0.13"/>
<stop offset="0.950" stop-color="#000086" stop-opacity="0.10"/>
<stop offset="0.960" stop-color="#000084" stop-opacity="0.07"/>
<stop offset="0.970" stop-color="#000083" stop-opacity="0.04"/>
<stop offset="0.980" stop-color="#000081" stop-opacity="0.01"/>
<stop offset="0.990" stop-color="#000080" stop-opacity="0.00"/>
<stop offset="1.000" stop-color="#000080" stop-opacity="0.00"/>
</linearGradient>
<linearGradient id="fl" gradientUnits="userSpaceOnUse" x1="0" y1="325.0" x2="0" y2="525.0">
<stop offset="0.000" stop-color="#000080" stop-opacity="0.00"/>
<stop offset="0.010" stop-color="#000080" stop-opacity="0.00"/>
<stop offset="0.020" stop-color="#000081" stop-opacity="0.01"/>
<stop offset="0.030" stop-color="#000082" stop-opacity="0.04"/>
<stop offset="0.040" stop-color="#000084" stop-opacity="0.06"/>
<stop offset="0.050" stop-color="#000085" stop-opacity="0.08"/>
<stop offset="0.060" stop-color="#000087" stop-opacity="0.11"/>
<stop offset="0.070" stop-color="#000088" stop-opacity="0.13"/>
<stop offset="0.080" stop-color="#000089" stop-opacity="0.15"/>
<stop offset="0.090" stop-color="#00008b" stop-opacity="0.19"/>
<stop offset="0.100" stop-color="#00008e" stop-opacity="0.22"/>
<stop offset="0.110" stop-color="#000090" stop-opacity="0.26"/>
<stop offset="0.120" stop-color="#000092" stop-opacity="0.30"/>
<stop offset="0.130" stop-color="#000095" stop-opacity="0.34"/>
<stop offset="0.140" stop-color="#000097" stop-opacity="0.38"/>
<stop offset="0.150" stop-color="#000099" stop-opacity="0.42"/>
<stop offset="0.160" stop-color="#00009d" stop-opacity="0.48"/>
<stop offset="0.170" stop-color="#0000a2" stop-opacity="0.55"/>
<stop offset="0.180" stop-color="#0000a6" stop-opacity="0.62"/>
<stop offset="0.190" stop-color="#0000aa" stop-opacity="0.68"/>
<stop offset="0.200" stop-color="#0000ae" stop-opacity="0.75"/>
<stop offset="0.210" stop-color="#0000b2" stop-opacity="0.82"/>
<stop offset="0.220" stop-color="#0000b6" stop-opacity="0.88"/>
<stop offset="0.230" stop-color="#0000bc" stop-opacity="0.99"/>
<stop offset="0.240" stop-color="#0000c5" stop-opacity="1.00"/>
<stop offset="0.250" stop-color="#0000ce" stop-opacity="1.00"/>
<stop offset="0.260" stop-color="#0000d6" stop-opacity="1.00"/>
<stop offset="0.270" stop-color="#0000e6" stop-opacity="1.00"/>
<stop offset="0.280" stop-color="#0000f5" stop-opacity="1.00"/>
<stop offset="0.290" stop-color="#0005ff" stop-opacity="1.00"/>
<stop offset="0.300" stop-color="#0014ff" stop-opacity="1.00"/>
<stop offset="0.310" stop-color="#0024ff" stop-opacity="1.00"/>
<stop offset="0.320" stop-color="#003bff" stop-opacity="1.00"/>
<stop offset="0.330" stop-color="#0052ff" stop-opacity="1.00"/>
<stop offset="0.340" stop-color="#0069ff" stop-opacity="1.00"/>
<stop offset="0.350" stop-color="#007fff" stop-opacity="1.00"/>
<stop offset="0.360" stop-color="#00a7ff" stop-opacity="1.00"/>
<stop offset="0.370" stop-color="#00ceff" stop-opacity="1.00"/>
<stop offset="0.380" stop-color="#00f5ff" stop-opacity="1.00"/>
<stop offset="0.390" stop-color="#26ffd9" stop-opacity="1.00"/>
<stop offset="0.400" stop-color="#59ffa6" stop-opacity="1.00"/>
<stop offset="0.410" stop-color="#99ff66" stop-opacity="1.00"/>
<stop offset="0.420" stop-color="#ffff00" stop-opacity="1.00"/>
<stop offset="0.430" stop-color="#ffaa00" stop-opacity="1.00"/>
<stop offset="0.440" stop-color="#ff6000" stop-opacity="1.00"/>
<stop offset="0.450" stop-color="#ff2000" stop-opacity="1.00"/>
<stop offset="0.460" stop-color="#ed0000" stop-opacity="1.00"/>
<stop offset="0.470" stop-color="#c70000" stop-opacity="1.00"/>
<stop offset="0.480" stop-color="#9e0000" stop-opacity="1.00"/>
<stop offset="0.490" stop-color="#800000" stop-opacity="1.00"/>
<stop offset="0.500" stop-color="#800000" stop-opacity="1.00"/>
<stop offset="0.510" stop-color="#800000" stop-opacity="1.00"/>
<stop offset="0.520" stop-color="#9e0000" stop-opacity="1.00"/>
<stop offset="0.530" stop-color="#c70000" stop-opacity="1.00"/>
<stop offset="0.540" stop-color="#ed0000" stop-opacity="1.00"/>
<stop offset="0.550" stop-color="#ff2000" stop-opacity="1.00"/>
<stop offset="0.560" stop-color="#ff6000" stop-opacity="1.00"/>
<stop offset="0.570" stop-color="#ffaa00" stop-opacity="1.00"/>
<stop offset="0.580" stop-color="#ffff00" stop-opacity="1.00"/>
<stop offset="0.590" stop-color="#99ff66" stop-opacity="1.00"/>
<stop offset="0.600" stop-color="#59ffa6" stop-opacity="1.00"/>
<stop offset="0.610" stop-color="#26ffd9" stop-opacity="1.00"/>
<stop offset="0.620" stop-color="#00f5ff" stop-opacity="1.00"/>
<stop offset="0.630" stop-color="#00ceff" stop-opacity="1.00"/>
<stop offset="0.640" stop-color="#00a7ff" stop-opacity="1.00"/>
<stop offset="0.650" stop-color="#007fff" stop-opacity="1.00"/>
<stop offset="0.660" stop-color="#0069ff" stop-opacity="1.00"/>
<stop offset="0.670" stop-color="#0052ff" stop-opacity="1.00"/>
<stop offset="0.680" stop-color="#003bff" stop-opacity="1.00"/>
<stop offset="0.690" stop-color="#0024ff" stop-opacity="1.00"/>
<stop offset="0.700" stop-color="#0014ff" stop-opacity="1.00"/>
<stop offset="0.710" stop-color="#0005ff" stop-opacity="1.00"/>
<stop offset="0.720" stop-color="#0000f5" stop-opacity="1.00"/>
<stop offset="0.730" stop-color="#0000e6" stop-opacity="1.00"/>
<stop offset="0.740" stop-color="#0000d6" stop-opacity="1.00"/>
<stop offset="0.750" stop-color="#0000ce" stop-opacity="1.00"/>
<stop offset="0.760" stop-color="#0000c5" stop-opacity="1.00"/>
<stop offset="0.770" stop-color="#0000bc" stop-opacity="0.99"/>
<stop offset="0.780" stop-color="#0000b6" stop-opacity="0.88"/>
<stop offset="0.790" stop-color="#0000b2" stop-opacity="0.82"/>
<stop offset="0.800" stop-color="#0000ae" stop-opacity="0.75"/>
<stop offset="0.810" stop-color="#0000aa" stop-opacity="0.68"/>
<stop offset="0.820" stop-color="#0000a6" stop-opacity="0.62"/>
<stop offset="0.830" stop-color="#0000a2" stop-opacity="0.55"/>
<stop offset="0.840" stop-color="#00009d" stop-opacity="0.48"/>
<stop offset="0.850" stop-color="#000099" stop-opacity="0.42"/>
<stop offset="0.860" stop-color="#000097" stop-opacity="0.38"/>
<stop offset="0.870" stop-color="#000095" stop-opacity="0.34"/>
<stop offset="0.880" stop-color="#000092" stop-opacity="0.30"/>
<stop offset="0.890" stop-color="#000090" stop-opacity="0.26"/>
<stop offset="0.900" stop-color="#00008e" stop-opacity="0.22"/>
<stop offset="0.910" stop-color="#00008b" stop-opacity="0.19"/>
<stop offset="0.920" stop-color="#000089" stop-opacity="0.15"/>
<stop offset="0.930" stop-color="#000088" stop-opacity="0.13"/>
<stop offset="0.940" stop-color="#000087" stop-opacity="0.11"/>
<stop offset="0.950" stop-color="#000085" stop-opacity="0.08"/>
<stop offset="0.960" stop-color="#000084" stop-opacity="0.06"/>
<stop offset="0.970" stop-color="#000082" stop-opacity="0.04"/>
<stop offset="0.980" stop-color="#000081" stop-opacity="0.01"/>
<stop offset="0.990" stop-color="#000080" stop-opacity="0.00"/>
<stop offset="1.000" stop-color="#000080" stop-opacity="0.00"/>
</linearGradient>
<filter id="bl" x="-20%" y="-20%" width="140%" height="140%"><feGaussianBlur stdDeviation="1.0"/></filter>
<filter id="bl2" x="-20%" y="-20%" width="140%" height="140%"><feGaussianBlur stdDeviation="0.8"/></filter>
<filter id="bl3" x="-10%" y="-10%" width="120%" height="120%"><feGaussianBlur stdDeviation="10"/></filter>
<filter id="bl4" x="-10%" y="-10%" width="120%" height="120%"><feGaussianBlur stdDeviation="0.45"/></filter>
<radialGradient id="halo" cx="0.5" cy="0.5" r="0.5"><stop offset="0" stop-color="#0008b0" stop-opacity="0.9"/><stop offset="1" stop-color="#0008b0" stop-opacity="0"/></radialGradient>
<clipPath id="cu"><rect x="807.3" y="4.1" width="604.9" height="283.8"/></clipPath>
<clipPath id="cl"><rect x="807.3" y="287.9" width="604.9" height="284.6"/></clipPath>
<clipPath id="panel"><rect x="807.3" y="4.1" width="604.9" height="568.4"/></clipPath>
</defs>
<rect x="807.3" y="4.1" width="604.9" height="568.4" fill="#000087"/>
<g clip-path="url(#panel)">
<g clip-path="url(#cu)">
<rect x="807.0" y="-2.0" width="567.0" height="292.0" rx="146.0" ry="146.0" fill="#000094" opacity="0.50" filter="url(#bl3)"/>
<rect x="817.0" y="8.0" width="547.0" height="272.0" rx="136.0" ry="136.0" fill="#000082" filter="url(#bl2)"/>
</g>
<g clip-path="url(#cl)">
<rect x="807.0" y="279.0" width="567.0" height="292.0" rx="146.0" ry="146.0" fill="#00009a" opacity="1.00" filter="url(#bl3)"/>
<rect x="817.0" y="289.0" width="547.0" height="272.0" rx="136.0" ry="136.0" fill="#00007f" filter="url(#bl2)"/>
</g>
<ellipse cx="1090.5" cy="144.0" rx="34" ry="60" fill="url(#halo)" opacity="0.35"/>
<ellipse cx="1090.5" cy="425.0" rx="34" ry="75" fill="url(#halo)" opacity="0.35"/>
<g filter="url(#bl)">
<path d="M1038.00,44.00 A125.0,125.0 0 0 1 1038.00,244.00 L1143.00,244.00 A125.0,125.0 0 0 1 1143.00,44.00 Z" fill="url(#fu)"/>
<path d="M1038.00,325.00 A125.0,125.0 0 0 1 1038.00,525.00 L1143.00,525.00 A125.0,125.0 0 0 1 1143.00,325.00 Z" fill="url(#fl)"/>
</g>
</g>
<path d="M807.3,287.9 H1366.2" stroke="#d0d0f0" stroke-width="1.8"/>
<g filter="url(#bl2)">
<rect x="1372.9" y="6.9" width="30.4" height="561.6" fill="#04041a"/>
<rect x="1374.9" y="8.3" width="26.4" height="558.8" fill="url(#cb)"/>
</g>
<g filter="url(#bl4)" fill="#05051c">
<rect x="1372.5" y="77.3" width="4.5" height="1.4" opacity="0.8"/>
<rect x="1395.5" y="77.3" width="7" height="1.4" opacity="0.7"/>
<rect x="1407" y="69.0" width="4.6" height="3.4" rx="1.5" opacity="0.7"/>
<rect x="1407" y="76.4" width="4.6" height="4.2" rx="1.5" opacity="0.7"/>
<rect x="1407" y="83.8" width="4.6" height="4.2" rx="1.5" opacity="0.7"/>
<rect x="1372.5" y="199.3" width="4.5" height="1.4" opacity="0.8"/>
<rect x="1395.5" y="199.3" width="7" height="1.4" opacity="0.7"/>
<rect x="1407" y="191.0" width="4.6" height="3.4" rx="1.5" opacity="0.7"/>
<rect x="1407" y="198.4" width="4.6" height="4.2" rx="1.5" opacity="0.7"/>
<rect x="1407" y="205.8" width="4.6" height="4.2" rx="1.5" opacity="0.7"/>
<rect x="1372.5" y="321.3" width="4.5" height="1.4" opacity="0.8"/>
<rect x="1395.5" y="321.3" width="7" height="1.4" opacity="0.7"/>
<rect x="1407" y="313.0" width="4.6" height="3.4" rx="1.5" opacity="0.7"/>
<rect x="1407" y="320.4" width="4.6" height="4.2" rx="1.5" opacity="0.7"/>
<rect x="1407" y="327.8" width="4.6" height="4.2" rx="1.5" opacity="0.7"/>
<rect x="1372.5" y="443.3" width="4.5" height="1.4" opacity="0.8"/>
<rect x="1395.5" y="443.3" width="7" height="1.4" opacity="0.7"/>
<rect x="1407" y="435.0" width="4.6" height="3.4" rx="1.5" opacity="0.7"/>
<rect x="1407" y="442.4" width="4.6" height="4.2" rx="1.5" opacity="0.7"/>
<rect x="1407" y="449.8" width="4.6" height="4.2" rx="1.5" opacity="0.7"/>
</g>
<g font-family="Liberation Serif, serif" fill="#ececfa" filter="url(#bl4)">
<text x="1097.7" y="42" font-size="45" text-anchor="middle">(b)</text>
<text transform="translate(813.5,86.3) scale(1.035,1)" font-size="31">&#952;=60&#176;</text>
<text transform="translate(815.8,374.9) scale(1.035,1)" font-size="31">&#952;=0&#176;</text>
<text transform="translate(1305.4,41.7) scale(1.02,1)" font-size="32">Max</text>
<text transform="translate(1305.4,555) scale(1.02,1)" font-size="32">Min</text>
</g>
</svg>
</body></html>
